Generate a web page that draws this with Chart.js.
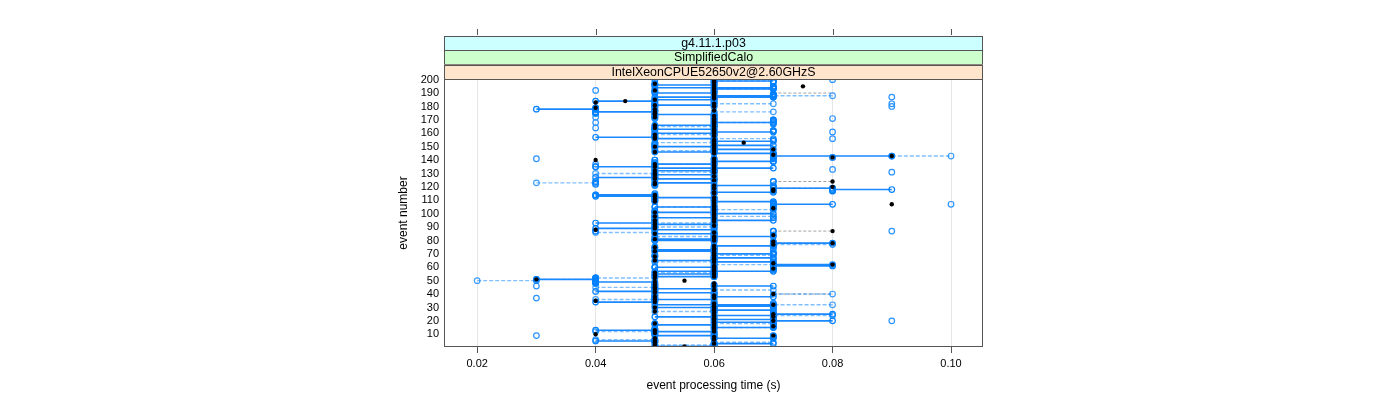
<!DOCTYPE html>
<html>
<head>
<meta charset="utf-8">
<title>event processing time</title>
<script src="https://cdn.jsdelivr.net/npm/chart.js@4.4.1/dist/chart.umd.min.js"></script>
<style>
  html, body { margin: 0; padding: 0; background: #fff; }
  #wrap { width: 1400px; height: 400px; }
</style>
</head>
<body>
<div id="wrap"><canvas id="timingChart" width="1400" height="400"></canvas></div>
<script>
// strip labels, outermost first
const stripLabels = ['g4.11.1.p03', 'SimplifiedCalo', 'IntelXeonCPUE52650v2@2.60GHzS'];

const xTicks = [0.02, 0.04, 0.06, 0.08, 0.10];
const yTicks = [10, 20, 30, 40, 50, 60, 70, 80, 90, 100,
                110, 120, 130, 140, 150, 160, 170, 180, 190, 200];

// event index 1..200
const eventNumbers = Array.from({ length: 200 }, (_, i) => i + 1);

// times (s) per event
// solid group: two runs, joined by a solid line where they differ
const solidRun = [
  0.05, 0.06, 0.06, 0.05, 0.04, 0.05, 0.06, 0.07, 0.06, 0.05,
  0.06, 0.05, 0.04, 0.05, 0.06, 0.07, 0.06, 0.05, 0.06, 0.07,
  0.06, 0.07, 0.06, 0.07, 0.08, 0.07, 0.06, 0.07, 0.06, 0.05,
  0.06, 0.07, 0.06, 0.04, 0.05, 0.06, 0.05, 0.06, 0.05, 0.06,
  0.05, 0.04, 0.05, 0.06, 0.05, 0.06, 0.05, 0.04, 0.05, 0.04,
  0.03, 0.04, 0.05, 0.06, 0.05, 0.06, 0.05, 0.06, 0.07, 0.06,
  0.07, 0.08, 0.07, 0.06, 0.05, 0.06, 0.07, 0.06, 0.05, 0.06,
  0.07, 0.06, 0.05, 0.06, 0.05, 0.06, 0.07, 0.08, 0.07, 0.06,
  0.05, 0.06, 0.07, 0.06, 0.05, 0.06, 0.07, 0.06, 0.04, 0.05,
  0.06, 0.05, 0.04, 0.05, 0.06, 0.05, 0.06, 0.05, 0.06, 0.07,
  0.06, 0.05, 0.06, 0.07, 0.06, 0.07, 0.08, 0.07, 0.06, 0.05,
  0.06, 0.05, 0.04, 0.05, 0.06, 0.07, 0.08, 0.09, 0.08, 0.07,
  0.06, 0.05, 0.06, 0.07, 0.06, 0.05, 0.04, 0.05, 0.06, 0.05,
  0.06, 0.05, 0.06, 0.05, 0.04, 0.05, 0.06, 0.05, 0.06, 0.05,
  0.06, 0.07, 0.09, 0.07, 0.06, 0.05, 0.06, 0.07, 0.06, 0.05,
  0.06, 0.05, 0.06, 0.07, 0.06, 0.05, 0.04, 0.05, 0.06, 0.05,
  0.06, 0.07, 0.06, 0.05, 0.06, 0.05, 0.06, 0.07, 0.06, 0.07,
  0.06, 0.05, 0.06, 0.05, 0.04, 0.05, 0.05, 0.03, 0.04, 0.05,
  0.06, 0.05, 0.06, 0.04, 0.05, 0.06, 0.05, 0.06, 0.07, 0.06,
  0.05, 0.06, 0.07, 0.05, 0.07, 0.06, 0.05, 0.06, 0.07, 0.06
];
const solidEnd = [
  0.06, 0.06, 0.07, 0.05, 0.05, 0.05, 0.07, 0.07, 0.05, 0.05,
  0.06, 0.06, 0.05, 0.05, 0.07, 0.07, 0.05, 0.05, 0.07, 0.08,
  0.07, 0.07, 0.05, 0.06, 0.07, 0.07, 0.06, 0.06, 0.06, 0.06,
  0.07, 0.05, 0.06, 0.05, 0.05, 0.05, 0.05, 0.07, 0.05, 0.06,
  0.06, 0.05, 0.05, 0.05, 0.05, 0.07, 0.05, 0.04, 0.04, 0.04,
  0.04, 0.04, 0.06, 0.06, 0.06, 0.06, 0.07, 0.06, 0.07, 0.05,
  0.08, 0.07, 0.07, 0.07, 0.06, 0.06, 0.06, 0.06, 0.05, 0.07,
  0.07, 0.05, 0.06, 0.06, 0.05, 0.07, 0.07, 0.07, 0.07, 0.05,
  0.06, 0.06, 0.06, 0.06, 0.06, 0.06, 0.07, 0.05, 0.05, 0.05,
  0.06, 0.06, 0.05, 0.05, 0.07, 0.05, 0.05, 0.05, 0.06, 0.06,
  0.05, 0.05, 0.06, 0.07, 0.05, 0.07, 0.07, 0.07, 0.07, 0.05,
  0.06, 0.06, 0.05, 0.04, 0.06, 0.06, 0.08, 0.08, 0.07, 0.07,
  0.07, 0.05, 0.05, 0.07, 0.06, 0.06, 0.05, 0.05, 0.05, 0.05,
  0.06, 0.06, 0.06, 0.07, 0.05, 0.05, 0.05, 0.05, 0.07, 0.05,
  0.06, 0.07, 0.07, 0.07, 0.07, 0.06, 0.06, 0.06, 0.06, 0.06,
  0.07, 0.05, 0.06, 0.06, 0.06, 0.06, 0.05, 0.05, 0.06, 0.06,
  0.07, 0.07, 0.05, 0.05, 0.06, 0.06, 0.06, 0.06, 0.06, 0.07,
  0.06, 0.05, 0.06, 0.06, 0.04, 0.04, 0.05, 0.04, 0.04, 0.05,
  0.05, 0.05, 0.06, 0.05, 0.06, 0.06, 0.07, 0.07, 0.07, 0.05,
  0.05, 0.06, 0.06, 0.07, 0.07, 0.05, 0.05, 0.06, 0.06, 0.06
];

// dashed group: two runs, joined by a dashed line where they differ
const dashedRun = [
  0.06, 0.05, 0.06, 0.06, 0.05, 0.04, 0.06, 0.06, 0.07, 0.06,
  0.05, 0.04, 0.05, 0.06, 0.07, 0.06, 0.07, 0.06, 0.07, 0.06,
  0.07, 0.06, 0.07, 0.08, 0.07, 0.06, 0.05, 0.06, 0.07, 0.06,
  0.07, 0.08, 0.07, 0.06, 0.05, 0.04, 0.05, 0.06, 0.05, 0.07,
  0.06, 0.05, 0.06, 0.05, 0.04, 0.05, 0.06, 0.05, 0.04, 0.02,
  0.04, 0.05, 0.06, 0.05, 0.06, 0.05, 0.06, 0.07, 0.06, 0.05,
  0.06, 0.07, 0.06, 0.05, 0.06, 0.07, 0.06, 0.05, 0.06, 0.07,
  0.06, 0.05, 0.06, 0.07, 0.06, 0.07, 0.08, 0.07, 0.06, 0.05,
  0.06, 0.05, 0.06, 0.07, 0.06, 0.05, 0.04, 0.05, 0.06, 0.05,
  0.05, 0.06, 0.05, 0.06, 0.05, 0.06, 0.07, 0.06, 0.05, 0.06,
  0.05, 0.06, 0.07, 0.06, 0.05, 0.06, 0.07, 0.06, 0.05, 0.06,
  0.05, 0.06, 0.05, 0.04, 0.05, 0.06, 0.07, 0.06, 0.07, 0.06,
  0.05, 0.04, 0.03, 0.04, 0.05, 0.06, 0.05, 0.06, 0.05, 0.04,
  0.05, 0.06, 0.05, 0.06, 0.05, 0.06, 0.05, 0.06, 0.07, 0.06,
  0.07, 0.08, 0.09, 0.07, 0.07, 0.06, 0.05, 0.06, 0.05, 0.06,
  0.05, 0.06, 0.05, 0.06, 0.07, 0.06, 0.05, 0.06, 0.05, 0.06,
  0.05, 0.06, 0.05, 0.06, 0.05, 0.06, 0.07, 0.06, 0.07, 0.06,
  0.05, 0.06, 0.05, 0.06, 0.05, 0.06, 0.05, 0.04, 0.05, 0.06,
  0.05, 0.06, 0.05, 0.06, 0.05, 0.06, 0.07, 0.08, 0.07, 0.06,
  0.06, 0.05, 0.06, 0.07, 0.06, 0.05, 0.06, 0.07, 0.06, 0.05
];
const dashedEnd = [
  0.06, 0.06, 0.06, 0.07, 0.05, 0.05, 0.06, 0.06, 0.07, 0.06,
  0.05, 0.05, 0.05, 0.06, 0.06, 0.06, 0.07, 0.07, 0.07, 0.06,
  0.07, 0.06, 0.07, 0.07, 0.07, 0.06, 0.06, 0.06, 0.07, 0.06,
  0.07, 0.07, 0.07, 0.06, 0.05, 0.05, 0.05, 0.06, 0.05, 0.08,
  0.06, 0.05, 0.07, 0.05, 0.05, 0.05, 0.06, 0.05, 0.04, 0.03,
  0.03, 0.04, 0.06, 0.05, 0.06, 0.06, 0.06, 0.07, 0.06, 0.05,
  0.06, 0.06, 0.06, 0.06, 0.06, 0.07, 0.06, 0.05, 0.07, 0.07,
  0.06, 0.06, 0.06, 0.07, 0.06, 0.07, 0.07, 0.07, 0.06, 0.05,
  0.06, 0.05, 0.05, 0.07, 0.06, 0.04, 0.04, 0.05, 0.06, 0.06,
  0.05, 0.06, 0.06, 0.06, 0.05, 0.06, 0.07, 0.07, 0.05, 0.06,
  0.05, 0.06, 0.06, 0.06, 0.06, 0.06, 0.07, 0.06, 0.05, 0.06,
  0.05, 0.06, 0.05, 0.05, 0.05, 0.06, 0.07, 0.06, 0.08, 0.06,
  0.05, 0.04, 0.04, 0.04, 0.05, 0.06, 0.05, 0.06, 0.05, 0.05,
  0.06, 0.06, 0.05, 0.06, 0.05, 0.06, 0.06, 0.06, 0.07, 0.06,
  0.07, 0.08, 0.10, 0.07, 0.07, 0.06, 0.06, 0.06, 0.05, 0.06,
  0.05, 0.06, 0.06, 0.06, 0.07, 0.07, 0.05, 0.06, 0.06, 0.06,
  0.05, 0.06, 0.05, 0.06, 0.06, 0.06, 0.07, 0.07, 0.07, 0.06,
  0.05, 0.06, 0.05, 0.06, 0.05, 0.07, 0.05, 0.04, 0.05, 0.06,
  0.05, 0.07, 0.05, 0.06, 0.05, 0.06, 0.07, 0.07, 0.07, 0.06,
  0.06, 0.05, 0.07, 0.07, 0.06, 0.05, 0.06, 0.07, 0.07, 0.05
];

// black run
const blackRun = [
  0.055, 0.05, 0.06, 0.05, 0.05, 0.06, 0.05, 0.06, 0.07, 0.04,
  0.05, 0.06, 0.05, 0.06, 0.06, 0.07, 0.06, 0.05, 0.06, 0.07,
  0.06, 0.06, 0.07, 0.06, 0.07, 0.06, 0.05, 0.06, 0.06, 0.05,
  0.06, 0.07, 0.06, 0.05, 0.04, 0.05, 0.06, 0.05, 0.06, 0.07,
  0.05, 0.05, 0.06, 0.05, 0.05, 0.06, 0.05, 0.06, 0.05, 0.055,
  0.03, 0.05, 0.06, 0.05, 0.06, 0.05, 0.06, 0.06, 0.07, 0.06,
  0.06, 0.08, 0.07, 0.06, 0.05, 0.06, 0.06, 0.05, 0.06, 0.06,
  0.06, 0.05, 0.06, 0.06, 0.05, 0.06, 0.07, 0.08, 0.07, 0.06,
  0.05, 0.06, 0.06, 0.07, 0.05, 0.06, 0.08, 0.04, 0.05, 0.05,
  0.06, 0.05, 0.05, 0.06, 0.05, 0.06, 0.06, 0.05, 0.06, 0.06,
  0.05, 0.06, 0.06, 0.07, 0.06, 0.06, 0.09, 0.06, 0.05, 0.06,
  0.05, 0.06, 0.05, 0.05, 0.06, 0.06, 0.07, 0.07, 0.06, 0.08,
  0.06, 0.05, 0.05, 0.08, 0.06, 0.05, 0.05, 0.06, 0.05, 0.05,
  0.06, 0.05, 0.06, 0.06, 0.05, 0.06, 0.05, 0.06, 0.06, 0.04,
  0.06, 0.08, 0.09, 0.07, 0.06, 0.05, 0.06, 0.07, 0.06, 0.05,
  0.06, 0.06, 0.065, 0.06, 0.06, 0.05, 0.05, 0.06, 0.05, 0.06,
  0.06, 0.06, 0.06, 0.05, 0.06, 0.05, 0.06, 0.06, 0.06, 0.06,
  0.06, 0.05, 0.06, 0.05, 0.05, 0.05, 0.06, 0.05, 0.04, 0.06,
  0.05, 0.06, 0.04, 0.045, 0.05, 0.06, 0.06, 0.06, 0.06, 0.06,
  0.06, 0.05, 0.06, 0.06, 0.075, 0.06, 0.05, 0.06, 0.06, 0.06
];

// thin grey dashed segments
const greyEvents = [40, 78, 87, 119, 124, 190];
const greyFrom   = [0.07, 0.07, 0.07, 0.07, 0.07, 0.07];
const greyTo     = [0.08, 0.08, 0.08, 0.08, 0.08, 0.08];

// isolated open circles away from the runs
const strayEvents = [107, 87, 20, 131, 180, 182, 187, 141, 46, 37, 9,
                     192, 172, 168, 164, 137, 135, 171, 161, 156, 133, 200];
const strayTimes  = [0.10, 0.09, 0.09, 0.09, 0.09, 0.09, 0.09, 0.03, 0.03, 0.03, 0.03,
                     0.04, 0.04, 0.04, 0.04, 0.04, 0.04, 0.08, 0.08, 0.08, 0.08, 0.08];

const stripColors = ['#ccffff', '#ccffcc', '#ffe5cc'];
const FONT = '"Liberation Sans", Arial, Helvetica, sans-serif';

const toPoints = (times, events) => times.map((t, i) => ({ x: t, y: events[i] }));

// one horizontal piece per event, separated by gaps (y: null)
function segments(from, to, events) {
    const pts = [];
    events.forEach((e, i) => {
        if (from[i] === to[i]) return;
        pts.push({ x: from[i], y: e }, { x: to[i], y: e }, { x: to[i], y: null });
    });
    return pts;
}

// strips above the panel, box and top tick marks
const latticeFrame = {
    id: 'latticeFrame',
    afterDraw(chart) {
        const { ctx, chartArea: a, scales } = chart;
        ctx.save();
        const top = 36;
        const h = (a.top - top) / stripLabels.length;
        ctx.lineWidth = 1;
        stripLabels.forEach((label, i) => {
            const y0 = top + i * h;
            ctx.fillStyle = stripColors[i];
            ctx.fillRect(a.left, y0, a.right - a.left, h);
            ctx.strokeStyle = '#555';
            ctx.strokeRect(a.left + 0.5, Math.round(y0) + 0.5, a.right - a.left - 1, Math.round(h));
            ctx.fillStyle = '#000';
            ctx.font = '12.4px ' + FONT;
            ctx.textAlign = 'center';
            ctx.textBaseline = 'middle';
            ctx.fillText(label, (a.left + a.right) / 2, y0 + h / 2 + 0.5);
        });

        ctx.strokeStyle = '#555';
        ctx.beginPath();
        xTicks.forEach(v => {
            const px = Math.round(scales.x.getPixelForValue(v)) + 0.5;
            ctx.moveTo(px, 29);
            ctx.lineTo(px, 35);
        });
        ctx.stroke();

        ctx.strokeRect(a.left + 0.5, a.top + 0.5, a.right - a.left - 1, a.bottom - a.top - 1);
        ctx.restore();
    }
};

const openCircle = color => ({
    showLine: false,
    pointRadius: 2.8,
    pointBorderWidth: 1.2,
    pointBorderColor: color,
    pointBackgroundColor: 'rgba(0,0,0,0)'
});

new Chart(document.getElementById('timingChart'), {
    type: 'scatter',
    data: {
        datasets: [
            {
                label: 'black',
                data: toPoints(blackRun, eventNumbers),
                showLine: false,
                pointRadius: 2.2,
                pointBorderWidth: 0,
                pointBackgroundColor: '#000'
            },
            {
                label: 'solid points',
                data: toPoints(solidRun, eventNumbers).concat(toPoints(solidEnd, eventNumbers)),
                ...openCircle('#0080ff')
            },
            {
                label: 'dashed points',
                data: toPoints(dashedRun, eventNumbers).concat(toPoints(dashedEnd, eventNumbers)),
                ...openCircle('rgba(0,128,255,0.75)')
            },
            {
                label: 'stray',
                data: toPoints(strayTimes, strayEvents),
                ...openCircle('#2b93ff')
            },
            {
                label: 'solid',
                data: segments(solidRun, solidEnd, eventNumbers),
                showLine: true,
                spanGaps: false,
                borderColor: '#1a88ff',
                borderWidth: 1.6,
                pointRadius: 0
            },
            {
                label: 'dashed',
                data: segments(dashedRun, dashedEnd, eventNumbers),
                showLine: true,
                spanGaps: false,
                borderColor: 'rgba(0,128,255,0.5)',
                borderDash: [4, 2],
                borderWidth: 1.4,
                pointRadius: 0
            },
            {
                label: 'grey',
                data: segments(greyFrom, greyTo, greyEvents),
                showLine: true,
                spanGaps: false,
                borderColor: 'rgba(90,90,90,0.7)',
                borderDash: [3, 2],
                borderWidth: 0.8,
                pointRadius: 0
            }
        ]
    },
    options: {
        responsive: false,
        animation: false,
        layout: { padding: { left: 392, right: 417, top: 79, bottom: 3 } },
        plugins: {
            legend: { display: false },
            tooltip: { enabled: false }
        },
        scales: {
            x: {
                type: 'linear',
                min: 0.0144,
                max: 0.1054,
                afterBuildTicks: scale => { scale.ticks = xTicks.map(v => ({ value: v })); },
                afterFit: scale => { scale.height = 50; },
                ticks: {
                    color: '#000',
                    font: { family: FONT, size: 11 },
                    padding: 4,
                    maxRotation: 0,
                    autoSkip: false,
                    callback: v => v.toFixed(2)
                },
                grid: {
                    color: '#e6e6e6',
                    tickColor: '#555',
                    tickLength: 6,
                    drawTicks: true
                },
                border: { display: false },
                title: {
                    display: true,
                    text: 'event processing time (s)',
                    color: '#000',
                    font: { family: FONT, size: 12 },
                    padding: { top: 4, bottom: 4 }
                }
            },
            y: {
                type: 'linear',
                min: 0.5,
                max: 200.5,
                afterBuildTicks: scale => { scale.ticks = yTicks.map(v => ({ value: v })); },
                afterFit: scale => { scale.width = 52; },
                ticks: {
                    color: '#000',
                    font: { family: FONT, size: 11 },
                    padding: 5,
                    autoSkip: false,
                    callback: v => String(v)
                },
                grid: { display: false, drawTicks: false },
                border: { display: false },
                title: {
                    display: true,
                    text: 'event number',
                    color: '#000',
                    font: { family: FONT, size: 12 },
                    padding: { top: 4, bottom: 4 }
                }
            }
        }
    },
    plugins: [latticeFrame]
});
</script>
</body>
</html>
